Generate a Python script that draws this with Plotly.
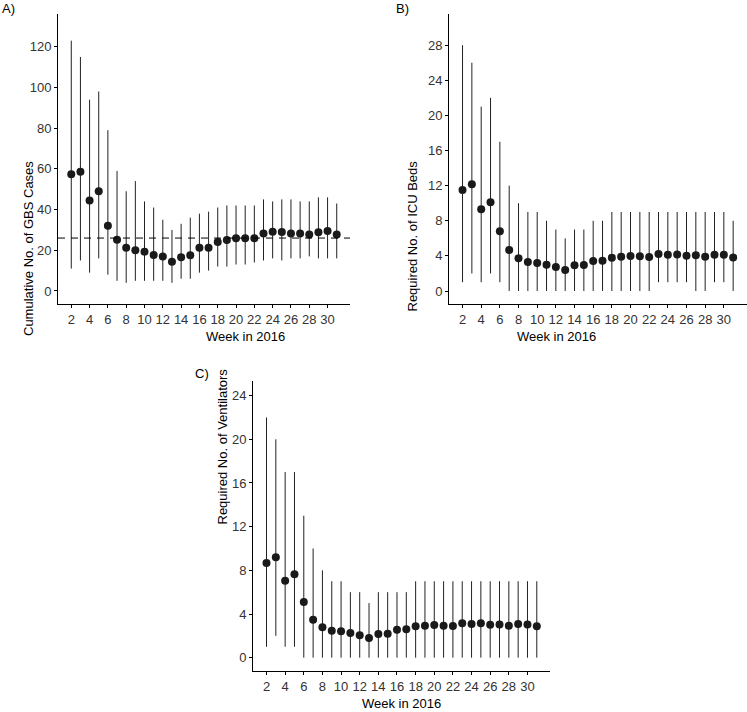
import plotly.graph_objects as go

WEEKS = [2, 3, 4, 5, 6, 7, 8, 9, 10, 11, 12, 13, 14, 15, 16, 17, 18, 19, 20, 21, 22, 23, 24, 25, 26, 27, 28, 29, 30, 31]
WEEK_TICKS = [2, 4, 6, 8, 10, 12, 14, 16, 18, 20, 22, 24, 26, 28, 30]

# A) cumulative GBS cases
GBS_MEAN = [57.3, 58.6, 44.4, 49.0, 32.1, 25.2, 21.3, 20.0, 19.3, 17.7, 17.0, 14.3, 16.6, 17.5, 21.3,
            21.3, 24.1, 25.0, 25.9, 25.9, 25.9, 28.3, 29.1, 29.0, 28.3, 28.3, 27.8, 28.8, 29.5, 27.8]
GBS_HIGH = [123, 115, 94, 98, 79, 59, 49, 54, 44, 41, 35, 30, 33, 36, 38,
            39, 41, 42, 42, 42, 42, 45, 44, 45, 45, 44, 44, 46, 46, 43]
GBS_LOW = [11, 15, 9, 16, 8, 5, 4, 5, 5, 5, 5, 4, 6, 6, 9,
           10, 12, 12, 13, 13, 14, 15, 16, 15, 16, 16, 17, 16, 16, 16]
GBS_REF = 26

# B) ICU beds
ICU_MEAN = [11.5, 12.15, 9.3, 10.1, 6.8, 4.67, 3.72, 3.3, 3.2, 3.0, 2.73, 2.4, 2.92, 2.96, 3.42,
            3.44, 3.8, 3.91, 3.99, 3.95, 3.87, 4.21, 4.14, 4.17, 4.02, 4.06, 3.91, 4.14, 4.14, 3.83]
ICU_HIGH = [28, 26, 21, 22, 17, 12, 10, 9, 9, 8, 7, 6, 7, 7, 8,
            8, 9, 9, 9, 9, 9, 9, 9, 9, 9, 9, 9, 9, 9, 8]
ICU_LOW = [1, 2, 1, 2, 1, 0, 0, 0, 0, 0, 0, 0, 0, 0, 0,
           0, 0, 0, 0, 0, 0, 1, 1, 1, 1, 0, 0, 1, 1, 0]

# C) ventilators
VENT_MEAN = [8.67, 9.19, 7.05, 7.63, 5.1, 3.48, 2.78, 2.47, 2.42, 2.26, 2.05, 1.8, 2.17, 2.2, 2.56,
             2.6, 2.87, 2.93, 2.99, 2.93, 2.9, 3.15, 3.09, 3.15, 3.02, 3.05, 2.93, 3.09, 3.05, 2.87]
VENT_HIGH = [22, 20, 17, 17, 13, 10, 8, 7, 7, 6, 6, 5, 6, 6, 6,
             6, 7, 7, 7, 7, 7, 7, 7, 7, 7, 7, 7, 7, 7, 7]
VENT_LOW = [1, 2, 1, 1, 0, 0, 0, 0, 0, 0, 0, 0, 0, 0, 0,
            0, 0, 0, 0, 0, 0, 0, 0, 0, 0, 0, 0, 0, 0, 0]

FONT = dict(family="Liberation Sans, Arial, sans-serif", size=13, color="#000000")
TICK_FONT = dict(family="Liberation Sans, Arial, sans-serif", size=13, color="#333333")
DOT = "#1a1a1a"
W, H = 747, 712

def px_x(p):
    return p / W

def px_y(p):
    return 1 - p / H

# panel pixel boxes: left, right, top, bottom
PANELS = [
    dict(box=(58, 350, 14, 304), yr=[-6.4, 136.1], dtick=20, mean=GBS_MEAN, hi=GBS_HIGH, lo=GBS_LOW,
         title="Cumulative No. of GBS Cases", tx=19, label="A)", lx=0, ly=8),
    dict(box=(449, 746.7, 14, 304), yr=[-1.48, 31.55], dtick=4, mean=ICU_MEAN, hi=ICU_HIGH, lo=ICU_LOW,
         title="Required No. of ICU Beds", tx=412, label="B)", lx=394, ly=8),
    dict(box=(253, 550.3, 381, 671), yr=[-1.22, 25.34], dtick=4, mean=VENT_MEAN, hi=VENT_HIGH, lo=VENT_LOW,
         title="Required No. of Ventilators", tx=212, label="C)", lx=193, ly=373),
]

fig = go.Figure()
annotations = []
for i, p in enumerate(PANELS):
    n = "" if i == 0 else str(i + 1)
    l, r, t, b = p["box"]
    plus = [h - m for h, m in zip(p["hi"], p["mean"])]
    minus = [m - lo for m, lo in zip(p["mean"], p["lo"])]
    fig.add_trace(go.Scatter(
        x=WEEKS, y=p["mean"], mode="markers", xaxis="x" + n, yaxis="y" + n, showlegend=False,
        marker=dict(size=8, color=DOT),
        error_y=dict(type="data", array=plus, arrayminus=minus, width=0, thickness=1, color="#222222"),
    ))
    common = dict(showline=True, linecolor="#000000", linewidth=1, ticks="outside", ticklen=3,
                  tickcolor="#000000", tickfont=TICK_FONT, showgrid=False, zeroline=False)
    fig.update_layout(**{
        "xaxis" + n: dict(domain=[px_x(l), px_x(r)], anchor="y" + n, range=[0.55, 32.45],
                          tickvals=WEEK_TICKS, **common),
        "yaxis" + n: dict(domain=[px_y(b), px_y(t)], anchor="x" + n, range=p["yr"],
                          tick0=0, dtick=p["dtick"], **common),
    })
    annotations.append(dict(x=px_x((l + r) / 2), y=px_y(b + 32), xref="paper", yref="paper",
                            text="Week in 2016", showarrow=False, font=FONT, yanchor="middle"))
    annotations.append(dict(x=px_x(p["tx"]), y=px_y((t + b) / 2), xref="paper", yref="paper",
                            text=p["title"], textangle=-90, showarrow=False, font=FONT))
    annotations.append(dict(x=px_x(p["lx"]), y=px_y(p["ly"]), xref="paper", yref="paper",
                            text=p["label"], showarrow=False, font=FONT, xanchor="left", yanchor="middle"))

fig.add_shape(type="line", xref="x domain", yref="y", x0=0, x1=1, y0=GBS_REF, y1=GBS_REF,
              line=dict(color="#000000", width=1, dash="7px,6px"))

fig.update_layout(width=W, height=H, margin=dict(l=0, r=0, t=0, b=0),
                  paper_bgcolor="white", plot_bgcolor="white", annotations=annotations,
                  font=FONT)

fig.write_html("out.html", config={"displayModeBar": False},
               post_script="document.body.style.margin='0';")
